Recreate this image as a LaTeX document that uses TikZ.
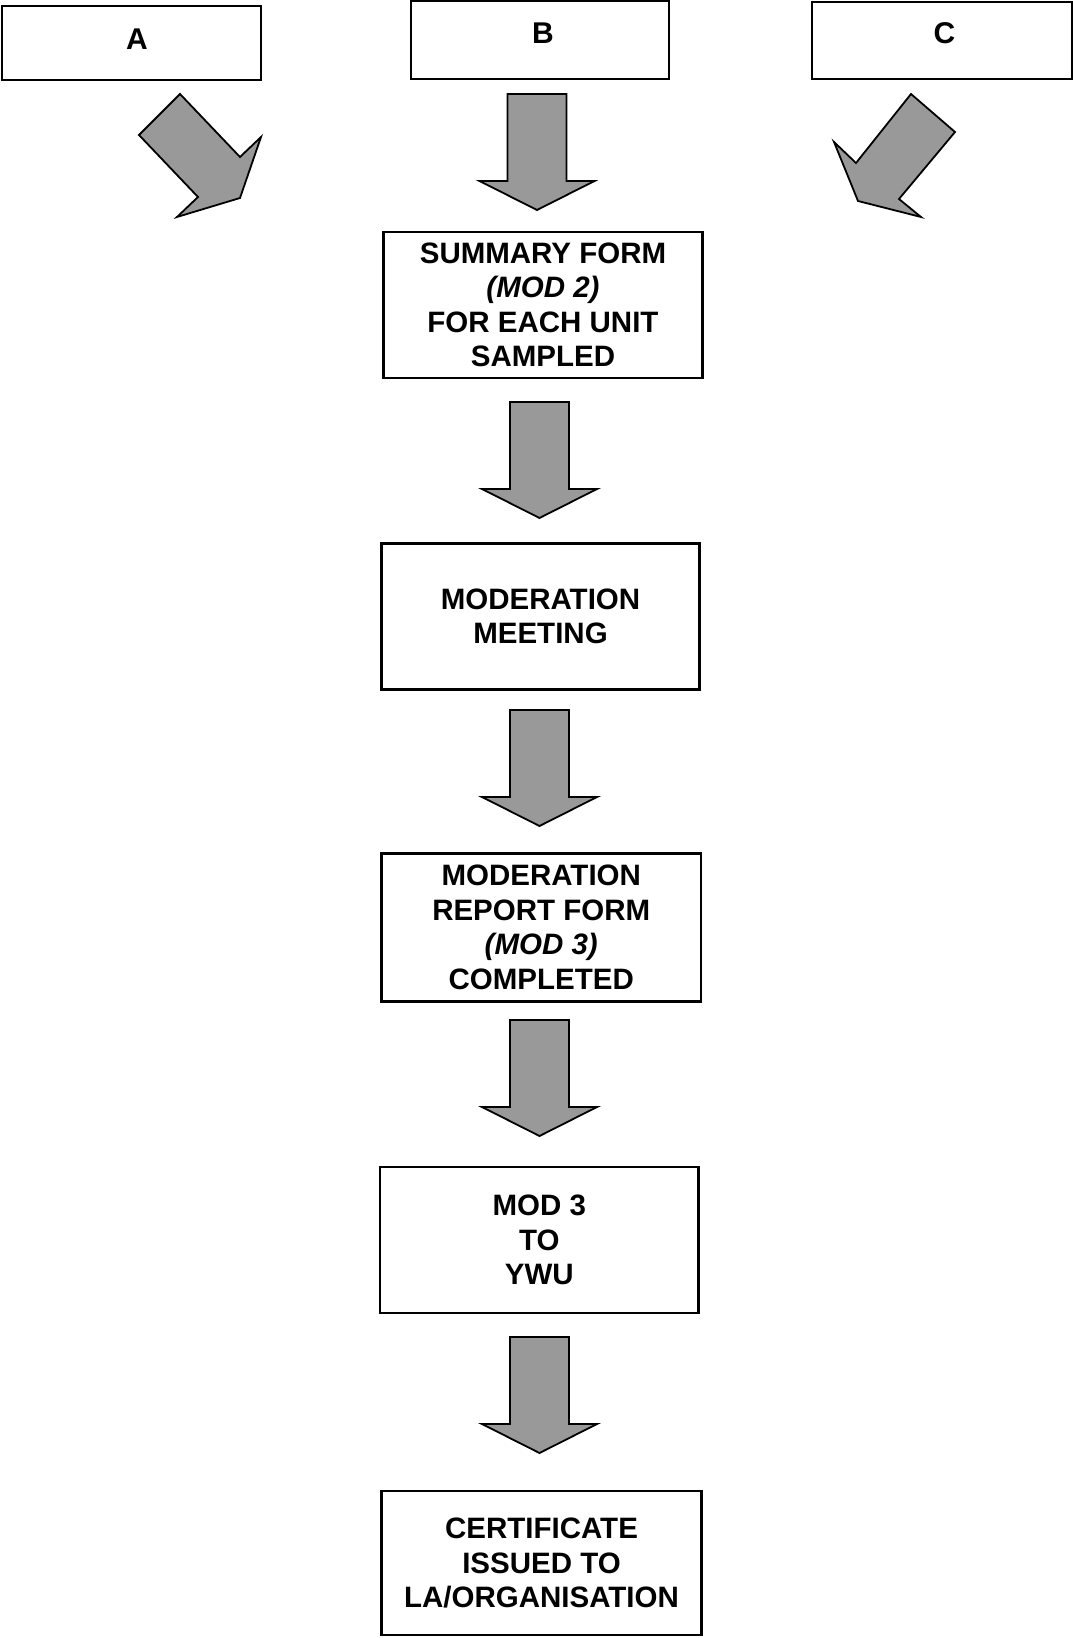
\documentclass[tikz,border=0pt]{standalone}
\usepackage{fontspec}
\setmainfont{Liberation Sans}
\definecolor{arrowgray}{RGB}{153,153,153}
\tikzset{
  boxstyle/.style={draw=black, line width=2.3pt, fill=white, inner sep=0pt, align=center,
    font=\fontsize{29.5}{34.5}\selectfont\bfseries},
  lbl/.style={inner sep=0pt, font=\fontsize{30}{35}\selectfont\bfseries},
  arrowstyle/.style={fill=arrowgray, draw=black, line width=1.8pt, line join=miter},
  downblock/.pic={
    \filldraw[arrowstyle] (-29.5,0) -- (29.5,0) -- (29.5,87) -- (57.5,87) -- (0,116)
      -- (-57.5,87) -- (-29.5,87) -- cycle;
  }
}
\begin{document}
\begin{tikzpicture}[x=1pt,y=-1pt]
\useasboundingbox (0,0) rectangle (1073,1638);
% top boxes
\node[boxstyle, minimum width=259pt, minimum height=74pt] (boxA) at (131.5,43) {};
\node[boxstyle, line width=1.6pt, minimum width=258pt, minimum height=78pt] (boxB) at (540,40) {};
\node[boxstyle, minimum width=260pt, minimum height=77pt] (boxC) at (942,40.5) {};
\node[lbl] (labA) at (137,39) {A};
\node[lbl] (labB) at (543,33.5) {B};
\node[lbl] (labC) at (944.5,33.5) {C};
% diagonal arrows
\filldraw[arrowstyle] (180,94) -- (139,135) -- (198,197) -- (177,217) -- (240,198)
  -- (261,137) -- (240,157) -- cycle;
\filldraw[arrowstyle] (911,94) -- (955,132) -- (899,199) -- (921,217) -- (858,201)
  -- (834,142) -- (856,163) -- cycle;
\pic (arrB) at (537,94) {downblock};
% main column
\node[boxstyle, minimum width=319pt, minimum height=146pt] (summary) at (543,305)
  {SUMMARY FORM\\\textit{(MOD 2)}\\FOR EACH UNIT\\SAMPLED};
\pic (arr2) at (539.5,402) {downblock};
\node[boxstyle, minimum width=318pt, minimum height=146pt] (meeting) at (540.5,616.5)
  {MODERATION\\MEETING};
\pic (arr3) at (539.5,710) {downblock};
\node[boxstyle, minimum width=319.5pt, minimum height=148pt] (report) at (541.25,927.5)
  {MODERATION\\REPORT FORM\\\textit{(MOD 3)}\\COMPLETED};
\pic (arr4) at (539.5,1020) {downblock};
\node[boxstyle, minimum width=318.5pt, minimum height=146pt] (ywu) at (539.25,1240)
  {MOD 3\\TO\\YWU};
\pic (arr5) at (539.5,1337) {downblock};
\node[boxstyle, minimum width=320pt, minimum height=144pt] (cert) at (541.5,1563)
  {CERTIFICATE\\ISSUED TO\\LA/ORGANISATION};
\end{tikzpicture}
\end{document}
